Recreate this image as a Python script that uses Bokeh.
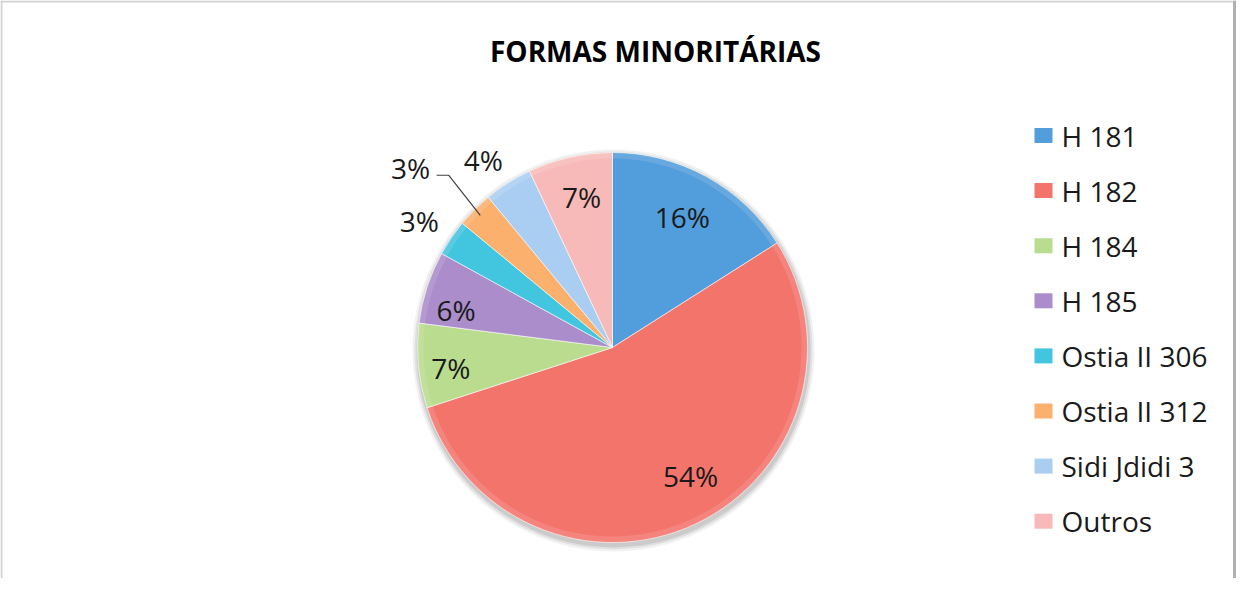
import math
from bokeh.plotting import figure
from bokeh.models import Span, ColumnDataSource
from bokeh.core.properties import value
from bokeh.embed import file_html
from bokeh.resources import INLINE

# ---- data ----
categories = ["H 181", "H 182", "H 184", "H 185", "Ostia II 306", "Ostia II 312", "Sidi Jdidi 3", "Outros"]
shares = [16, 54, 7, 6, 3, 3, 4, 7]
colors = ["#529DDB", "#F3746B", "#B9DC8F", "#AA8DCA", "#42C5DF", "#FCB06D", "#AACEF1", "#F8BAB9"]
title_text = "FORMAS MINORITÁRIAS"

# ---- layout (styling only) ----
W, H = 1236, 578
CX, CY, R = 612, 231, 195
# label placement: radius (px) and angle tweak (deg) per slice
lab_r = [148, 150, 163, 161, 231, 270, 228, 154]
lab_dt = [0.7, 6.2, 2.0, 4.4, 0.9, 3.4, 2.1, -1.0]
FONT = "Open Sans"

total = float(sum(shares))
starts, ends, mids = [], [], []
acc = 0.0
for s in shares:
    a0 = math.pi / 2 - acc / total * 2 * math.pi
    acc += s
    a1 = math.pi / 2 - acc / total * 2 * math.pi
    starts.append(a0)
    ends.append(a1)
    mids.append((a0 + a1) / 2)

lx = [CX + r * math.cos(m + math.radians(d)) for r, m, d in zip(lab_r, mids, lab_dt)]
ly = [CY + r * math.sin(m + math.radians(d)) for r, m, d in zip(lab_r, mids, lab_dt)]
labels = ["%d%%" % round(s / total * 100) for s in shares]

p = figure(width=W, height=H, x_range=(0, W), y_range=(0, H),
           output_backend="svg", toolbar_location=None, min_border=0)
p.axis.visible = False
p.grid.visible = False
p.outline_line_color = None
p.background_fill_color = "white"
p.border_fill_color = "white"

# frame lines (left, top, right)
p.add_layout(Span(location=1, dimension="height", line_color="#D4D4D4", line_width=2))
p.add_layout(Span(location=H - 1, dimension="width", line_color="#D4D4D4", line_width=2))
p.add_layout(Span(location=W - 2, dimension="height", line_color="#B0B0B0", line_width=3))

# soft shadow
for k, a in [(6, 0.05), (4, 0.07), (2, 0.09)]:
    p.circle(x=CX + 1, y=CY - 3, radius=R + k, fill_color="#000000", fill_alpha=a, line_color=None)

src = ColumnDataSource(dict(cat=categories, share=shares, start=starts, end=ends, color=colors))
p.wedge(x=CX, y=CY, radius=R, start_angle="start", end_angle="end", direction="clock",
        fill_color="color", line_color="white", line_alpha=0.6, line_width=1, source=src)
# subtle bevel highlight on the rim
p.annular_wedge(x=CX, y=CY, inner_radius=R - 6, outer_radius=R, start_angle="start", end_angle="end",
                direction="clock", fill_color="white", fill_alpha=0.12, line_color=None, source=src)

# leader line for Ostia II 312 label
i312 = 5
m = mids[i312]
p.line(x=[lx[i312] + 26, lx[i312] + 38, CX + (R - 8) * math.cos(m)],
       y=[ly[i312] - 7, ly[i312] - 7, CY + (R - 8) * math.sin(m)],
       line_color="#404040", line_width=1.2)

p.text(x=lx, y=ly, text=labels, text_align="center", text_baseline="middle",
       text_font=value(FONT), text_font_size="28px", text_color="#1A1A1A")

# title
p.text(x=[655], y=[528], text=[title_text], text_align="center", text_baseline="middle",
       text_font=value(FONT), text_font_style="bold", text_font_size="28px", text_color="#000000")

# legend
row_y = [586 - (143 + 55.1 * i) for i in range(len(categories))]
p.rect(x=[1043] * len(categories), y=row_y, width=18, height=15, width_units="screen",
       height_units="screen", fill_color=colors, line_color=None)
p.text(x=[1061] * len(categories), y=row_y, text=categories, text_align="left", text_baseline="middle",
       text_font=value(FONT), text_font_size="28px", text_color="#1A1A1A")

open("out.html", "w").write(file_html(p, INLINE))
